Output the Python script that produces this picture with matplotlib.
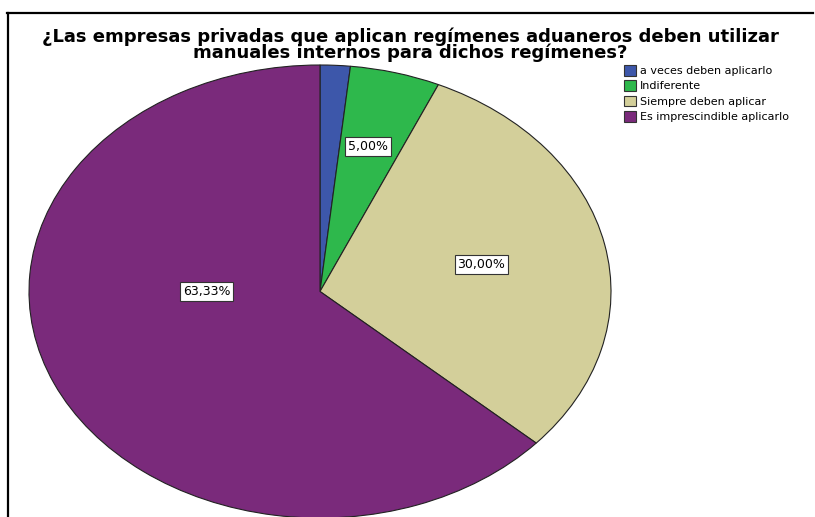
import matplotlib.pyplot as plt
from matplotlib.lines import Line2D
from matplotlib.patches import Patch

plt.rcParams['font.family'] = ['DejaVu Sans']

# Response categories and their shares (percent)
categories = ['a veces deben aplicarlo', 'Indiferente', 'Siempre deben aplicar',
              'Es imprescindible aplicarlo']
shares = [1.67, 5.00, 30.00, 63.33]
colors = ['#3D57AA', '#2EB84C', '#D3CF9A', '#7A2A7B']
show_label = [False, True, True, True]
# label anchor points inside the pie axes (x, y in -1..1)
label_pos = [(0.05, 0.95), (0.165, 0.64), (0.555, 0.12), (-0.39, 0.0)]

title = ('¿Las empresas privadas que aplican regímenes aduaneros deben utilizar\n'
         'manuales internos para dichos regímenes?')

W, H = 815, 517
fig = plt.figure(figsize=(W / 100, H / 100), dpi=100)

# outer frame (top and left border only)
fig.add_artist(Line2D([7 / W, 813 / W], [1 - 12.5 / H, 1 - 12.5 / H],
                      color='black', lw=1.6, transform=fig.transFigure))
fig.add_artist(Line2D([8 / W, 8 / W], [0, 1 - 12.5 / H],
                      color='black', lw=1.6, transform=fig.transFigure))

fig.text(410 / W, 1 - 44.5 / H, title, ha='center', va='center',
         fontsize=13, fontweight='bold', linespacing=0.86)

# elliptical pie: axes spans the ellipse bounding box
left, right, top, bottom = 29, 611, 65, 518
ax = fig.add_axes([left / W, 1 - bottom / H, (right - left) / W, (bottom - top) / H])
wedges, _ = ax.pie(shares, colors=colors, startangle=90, counterclock=False,
                   wedgeprops=dict(edgecolor='#222222', linewidth=0.8))
ax.set_aspect('auto')
ax.set_xlim(-1, 1)
ax.set_ylim(-1, 1)
ax.axis('off')

for val, show, (x, y) in zip(shares, show_label, label_pos):
    if not show:
        continue
    txt = f'{val:.2f}%'.replace('.', ',')
    ax.text(x, y, txt, ha='center', va='center', fontsize=9,
            bbox=dict(boxstyle='square,pad=0.22', fc='white', ec='#333333', lw=0.8))

handles = [Patch(facecolor=c, edgecolor='#333333', lw=0.8) for c in colors]
fig.legend(handles, categories, loc='upper left', bbox_to_anchor=(624 / W, 1 - 65 / H),
           frameon=False, fontsize=8, handlelength=1.1, handleheight=1.1,
           handletextpad=0.3, labelspacing=0.38, borderpad=0, borderaxespad=0)

fig.savefig('out.png', dpi=100)
